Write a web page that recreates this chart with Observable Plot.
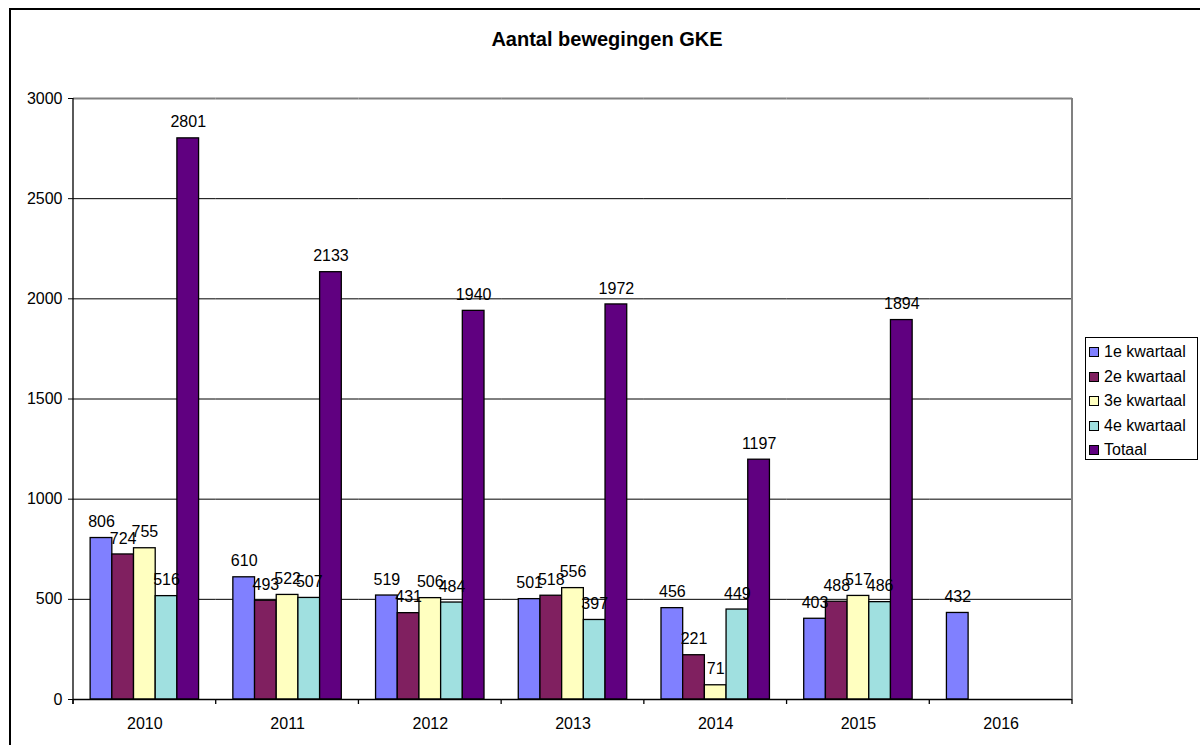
<!DOCTYPE html>
<html><head><meta charset="utf-8">
<script src="https://cdn.jsdelivr.net/npm/d3@7"></script>
<script src="https://cdn.jsdelivr.net/npm/@observablehq/plot@0.6"></script>
<style>
body{margin:0;background:#fff;font-family:"Liberation Sans",Arial,sans-serif;}
#wrap{position:relative;width:1200px;height:745px;overflow:hidden;background:#fff;}
#border{position:absolute;left:9px;top:8px;width:1300px;height:900px;border:2px solid #000;box-sizing:border-box;}
#chart{position:absolute;left:0;top:0;}
#title{position:absolute;left:0;width:1214px;top:28px;text-align:center;font-weight:bold;font-size:20px;line-height:23px;color:#000;}
#legend{position:absolute;left:1085px;top:337px;width:113px;height:123px;border:1px solid #000;box-sizing:border-box;background:#fff;}
.row{position:absolute;left:0;height:18px;line-height:18px;font-size:16px;color:#000;white-space:nowrap;}
.sw{position:absolute;left:3px;top:4px;width:10px;height:10px;border:1px solid #000;box-sizing:border-box;}
.lbl{position:absolute;left:18px;top:0;}
</style>
</head><body>
<div id="wrap">
  <div id="border"></div>
  <div id="chart"></div>
  <div id="title">Aantal bewegingen GKE</div>
  <div id="legend"></div>
</div>
<script>
const years = ["2010","2011","2012","2013","2014","2015","2016"];
const series = ["1e kwartaal","2e kwartaal","3e kwartaal","4e kwartaal","Totaal"];
const q1 = [806,610,519,501,456,403,432];
const q2 = [724,493,431,518,221,488,null];
const q3 = [755,522,506,556,71,517,null];
const q4 = [516,507,484,397,449,486,null];
const totaal = [2801,2133,1940,1972,1197,1894,null];
const colors = ["#8080FF","#802060","#FFFFC0","#A0E0E0","#600080"];
const yTicks = [0,500,1000,1500,2000,2500,3000];
const gridTicks = [500,1000,1500,2000,2500];

const seriesValues = [q1,q2,q3,q4,totaal];
const data = [];
years.forEach((yr,i)=>{
  series.forEach((s,j)=>{
    const v = seriesValues[j][i];
    if (v != null) data.push({year: yr, series: s, value: v});
  });
});

const chart = Plot.plot({
  width: 1200, height: 745,
  marginLeft: 73, marginRight: 128, marginTop: 98, marginBottom: 46,
  facet: {marginTop: 0, marginBottom: 0, marginLeft: 0, marginRight: 0},
  fx: {domain: years, padding: 0, round: false},
  x: {domain: series, paddingInner: 0, paddingOuter: 0.79, round: false, axis: null},
  y: {domain: [0,3000], axis: null},
  color: {domain: series, range: colors},
  style: {fontFamily: "'Liberation Sans', Arial, sans-serif", fontSize: "16px", background: "transparent"},
  marks: [
    Plot.ruleY(gridTicks, {stroke: "#000", strokeWidth: 1}),
    Plot.ruleY([3000], {stroke: "#808080", strokeWidth: 2}),
    Plot.barY(data, {fx: "year", x: "series", y: "value", fill: "series", stroke: "#000", strokeWidth: 1.3}),
    Plot.text(data, {fx: "year", x: "series", y: "value", text: d => String(d.value), dy: -16, fill: "#000", fontSize: 16}),
    Plot.ruleY([0], {stroke: "#000", strokeWidth: 1.3}),
    Plot.axisY({ticks: yTicks, tickSize: 5, tickPadding: 6, fontSize: 16, label: null, tickFormat: d => String(d)}),
    Plot.axisFx({anchor: "bottom", tickSize: 0, tickPadding: 18, fontSize: 16, label: null})
  ]
});
document.getElementById("chart").appendChild(chart);

// axis lines and category boundary ticks via the plot's scales
const fx = chart.scale("fx");
const ys = chart.scale("y");
const svg = d3.select(chart);
const x0 = fx.range[0], x1 = fx.range[1];
const yTop = ys.apply(3000), yBase = ys.apply(0);
const g = svg.append("g");
g.append("line").attr("x1", x1).attr("x2", x1).attr("y1", yTop).attr("y2", yBase)
  .attr("stroke", "#808080").attr("stroke-width", 2);
g.append("line").attr("x1", x0).attr("x2", x0).attr("y1", yTop).attr("y2", yBase + 5)
  .attr("stroke", "#000").attr("stroke-width", 1.3);
const bounds = years.map(y => fx.apply(y)).concat([fx.apply(years[years.length-1]) + fx.bandwidth]);
bounds.forEach(b => {
  g.append("line").attr("x1", b).attr("x2", b).attr("y1", yBase).attr("y2", yBase + 5)
    .attr("stroke", "#000").attr("stroke-width", 1.3);
});

const legend = document.getElementById("legend");
series.forEach((s,i)=>{
  const row = document.createElement("div");
  row.className = "row";
  row.style.top = (5 + i*24.5) + "px";
  row.innerHTML = `<span class="sw" style="background:${colors[i]}"></span><span class="lbl">${s}</span>`;
  legend.appendChild(row);
});
</script>
</body></html>
